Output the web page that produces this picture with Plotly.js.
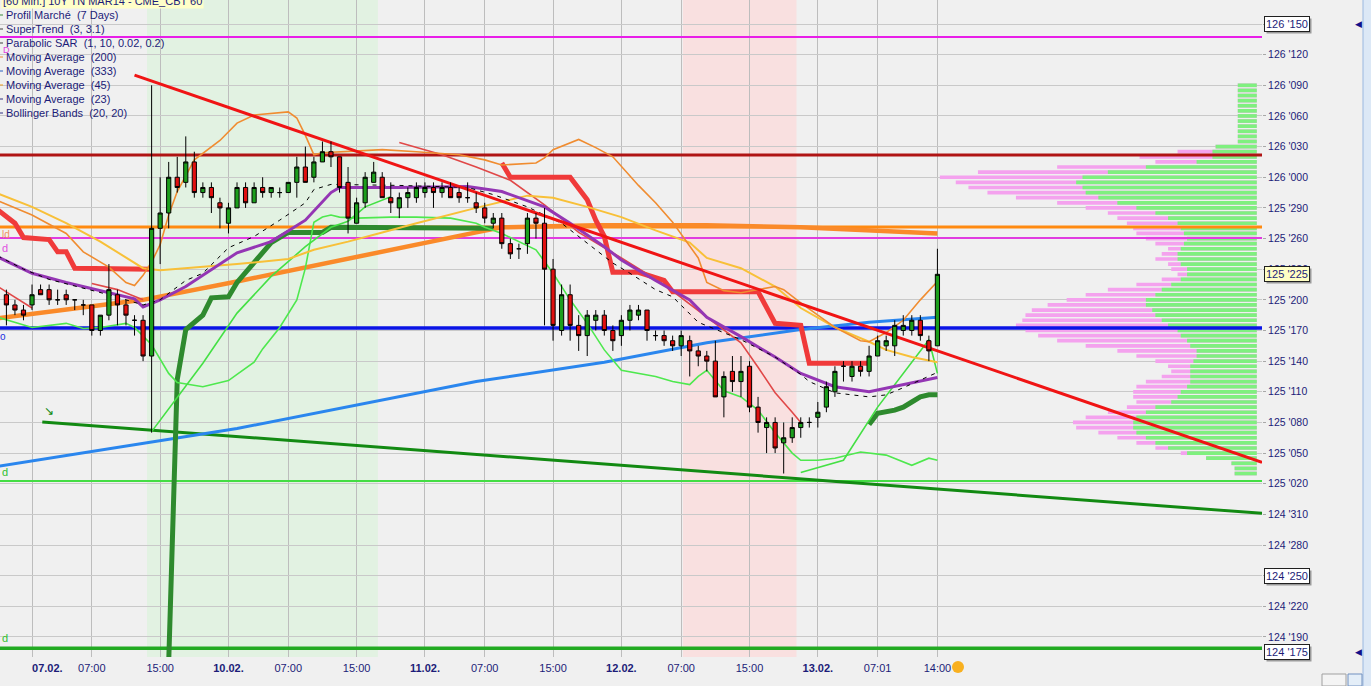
<!DOCTYPE html>
<html><head><meta charset="utf-8">
<script src="https://cdn.plot.ly/plotly-3.0.1.min.js"></script>
<style>html,body{margin:0;padding:0;background:#f0f0f0;overflow:hidden}</style>
</head><body>
<div id="chart" style="width:1371px;height:686px"></div>
<script>
// Prices are stored in 32nds of a point above 124 (e.g. 54.5 -> 125'225)
const BASE = 124;
const P = v => BASE + v / 32;

// ---- hourly candles, first bar = 06.02. 21:00 (bar index -3) ----
const firstBar = -3;
const open  = [52.5,51.5,51,51.5,53,53,52,52.5,52,51.5,51.5,49,50.5,52.5,51.5,50,50,46.5,59,60.5,64,63.5,65.5,62.5,63,61.5,59.5,61,63,61.5,63,62.5,62.5,62.5,63.5,65,64,65.5,66.5,66,63.5,59.5,61.5,63.5,64,62,61,62,62,62.5,63,62.5,63,62.5,62,61.5,61,59.5,60,57.5,57,57.5,60,59.5,55,49,52.5,49.5,48.5,50,50.5,49,48.5,50,50.5,51,48.5,48.5,48,47.5,48,47,46.5,46,42.5,45,44,45.5,41.5,39.5,40,38,38.5,39.5,40,40.5,41.5,43,45.5,44.5,45.5,45,46.5,47.5,47.5,49,49,50,48,47.5];
const high  = [53,52,51.5,53.5,53.5,53.5,53,53,52,52,51.5,50.5,55.5,53,52,50.5,50.5,73,64,65.5,66,68,66.5,63.5,63.5,62,61.5,63.5,63.5,63.5,64,63,63,63.5,66,67,66,67.5,67.5,66,65,62,64.5,65.5,64.5,63.5,62.5,63,63.5,63.5,63.5,63.5,63.5,63,63.5,62.5,61.5,60.5,60.5,58,57.5,60.5,60.5,61,56,53.5,53.5,50.5,51,51,51,49.5,50.5,51.5,51.5,51,49,49,48.5,49,48.5,47.5,47,48,45,46.5,46.5,46,42.5,40.5,40.5,40,40.5,40.5,40.5,42,44,45.5,46,46,46,47.5,48.5,48.5,50,50.5,50.5,50.5,48.5,57];
const low   = [49.5,50.5,50,51,52.5,51.5,51.5,51.5,51,50.5,48.5,48.5,50,49.5,49.5,48.5,46,39,55.5,59,62.5,63,62,62,60.5,59,58.5,61,61,61.5,62,62,62,62.5,62,63.5,63.5,65.5,65,62.5,58.5,59.5,61,63.5,62,60.5,60,61,61.5,62,61,62,62,61.5,61.5,60.5,59.5,59,57,56,56,56.5,58,49.5,48,48.5,48,47,46.5,49,48.5,47,47.5,49,50,48,48,47.5,47,46.5,44.5,45.5,45,42.5,40.5,43,42.5,41,39,37,37,35,38,38.5,39.5,39.5,41,42.5,44,44,44.5,44.5,46.5,47,46.5,48.5,48.5,48,46,47.5];
const close = [51.5,51,50.5,52.5,52.5,52,52,52,52,51.5,49,50.5,53,51.5,50.5,50,46.5,59,60.5,64,63,65.5,62.5,63,62,61,61,63,61.5,63,62.5,63,62.5,63.5,65,63.5,65.5,66.5,66,63,60,61.5,64,64.5,62,61.5,62,62.5,63,63,62.5,63,62,62,62,61,60,60,57.5,56.5,57,60,59.5,55,49.5,52.5,49.5,48.5,50.5,50.5,49,48,50,51,51,49,48.5,48,47.5,48.5,47,46.5,46,42.5,44.5,44,45,41.5,40,40,37.5,38.5,39.5,40,40,41,43.5,45,45.5,45.5,45,46.5,48,48,49.5,49.5,50,48.5,47,54.5];

// ---- time axis labels (bar index -> label) ----
const timeTicks  = [0,7,15,23,30,38,46,53,61,69,76,84,92,99,106];
const timeLabels = ['<b>07.02.</b>','07:00','15:00','<b>10.02.</b>','07:00','15:00','<b>11.02.</b>','07:00','15:00','<b>12.02.</b>','07:00','15:00','<b>13.02.</b>','07:01','14:00'];

// ---- price axis ----
const priceTicks = [19,22,25,28,31,34,37,40,43,46,49,52,55,58,61,64,67,70,73,76,79];
const priceLabels = ["124 '190","124 '220","124 '250","124 '280","124 '310","125 '020","125 '050","125 '080","125 '110","125 '140","125 '170","125 '200","125 '230","125 '260","125 '290","126 '000","126 '030","126 '060","126 '090","126 '120","126 '150"];

// ---- horizontal levels ----
const levelMagentaTop = 77.73, levelDarkRed = 66.18, levelOrange = 59.13, levelMagenta = 58.05,
      levelBlue = 49.25, levelLightGreen = 34.27, levelGreen = 17.9;

// ---- trendlines (bar, 32nds) ----
const trendRedX = [12, 144], trendRedV = [74.0, 36.1];
const trendGreenX = [1.2, 144], trendGreenV = [40.05, 31.1];

// ---- indicators ----
const ma333X = [-4,24,52,67,79,90,98,106];
const ma333V = [35.7,39.4,44.0,45.9,47.8,49.1,49.8,50.3];
const ma200X = [-4,13,24,32,38,52,55,66,79,90,106];
const ma200V = [50.2,52.0,53.8,55.2,56.2,58.6,59.1,59.3,59.3,59.1,58.5];
const ma45X = [-4,0,4,8,12,13,15,18,24,28,32,35,36,43,51,55,60,63,67,69,73,77,79,83,87,90,94,98,102,106];
const ma45V = [56.2,54.6,53.7,52.9,52.1,51.3,52.0,53.3,56.6,57.7,59.8,62.5,63.0,63.0,63.1,62.6,61.1,59.5,57.2,55.9,53.9,52.0,50.3,48.4,46.4,44.8,43.5,43.0,43.7,44.4];
const ma23X = [-4,-1,2,7,9,13,15,18,20,23,26,29,32,33,35,43,46,51,54,58,62,64,66,68,70,73,75,78,83,87,90,91,94,98,100,102,106];
const ma23V = [56.3,55.0,54.0,52.9,52.5,51.5,52.0,53.9,54.6,57.1,58.2,59.8,61.5,62.8,63.3,63.2,63.1,63.0,62.3,61.1,59.5,58.2,56.9,55.6,54.6,53.0,52.3,49.8,48.1,46.4,44.7,44.0,42.9,42.5,42.7,43.4,44.9];
const goldX = [-4,0,4,8,13,15,24,30,33,37,41,45,52,55,58,61,65,69,73,77,79,83,87,90,94,98,100,103,106];
const goldV = [62.4,61.1,59.5,57.7,55.1,54.9,55.5,56.0,56.9,57.7,58.6,59.5,61.0,61.6,62.2,62.0,61.1,60.1,58.8,57.6,56.1,55.1,53.3,51.2,49.3,47.9,47.1,46.4,45.9];
const bbUpX = [-4,0,4,6,9,11,12,13,14,15,16,17,19,22,24,26,30,31,32,33,34,37,41,45,50,53,55,59,60,61,64,66,68,71,73,75,78,79,81,83,85,87,88,90,94,97,98,100,102,104,106];
const bbUpV = [61.7,60.3,58.5,56.7,55.2,53.7,53.4,54.4,55.7,57.4,60.3,62.6,65.7,67.6,69.3,70.1,70.4,69.8,68.1,66.2,66.4,66.5,66.7,66.5,66.2,65.7,65.2,65.4,65.9,66.7,67.7,66.9,66.0,63.2,61.5,59.6,56.1,53.7,52.9,52.7,53.0,53.3,53.0,51.7,49.3,48.0,47.9,48.8,50.0,52.0,53.8];
const bbLowX = [-4,0,4,6,8,11,12,14,16,17,20,23,24,26,27,29,31,32,33,34,35,36,38,42,45,49,52,53,55,59,61,63,65,67,69,71,73,75,77,78,79,81,83,85,87,89,90,92,94,97,100,103,105,106];
const bbLowV = [50.3,49.3,49.7,49.2,49.3,49.7,49.3,47.6,44.8,43.9,43.5,44.1,44.7,45.9,47.2,49.3,52.0,55.1,59.6,60.1,60.3,60.1,60.0,60.1,60.1,60.0,59.5,59.1,58.5,56.9,54.6,52.0,49.7,47.1,45.1,44.8,44.5,44.0,43.7,44.5,45.1,43.1,42.5,41.2,39.0,37.0,36.3,36.3,36.5,37.1,36.8,35.8,36.5,36.3];
// Parabolic SAR segments
const sar1X = [-4,0], sar1V = [53.3,51.2];
const sar2X = [7,10,13], sar2V = [53.6,53.0,52.0];
const sar3X = [14,20,24,28,32,35,37,39,42], sar3V = [39.1,45.8,50.7,54.3,57.2,59.1,59.7,61.1,62.1];
const sar4X = [43,48,52,56,60,64,69,74,79,83,85,87,89,90], sar4V = [67.4,66.2,65.0,63.7,61.3,58.6,56.1,53.5,50.3,47.8,45.4,42.9,41.0,40.0];
const sar5X = [90,95,99,102,104,105,106], sar5V = [35.1,36.3,41.5,44.8,47.1,48.1,44.8];
// SuperTrend segments
const stRed1X = [-4,-2,-1,2,3,4,5,14], stRed1V = [60.8,59.5,58.1,57.9,56.7,56.7,55.1,55.0];
const stGreen1X = [16,17,18,20,21,23,24,26,28,30,34,35,54], stGreen1V = [16.5,44.2,49.1,50.5,52.2,52.3,53.7,55.6,57.6,58.6,58.6,59.1,59.0];
const stRed2X = [55,56,63,64,65,66,67,68,71,74,75,85,86,87,90,91,98], stRed2V = [65.4,64.0,64.0,62.8,61.8,59.8,58.2,54.7,54.7,53.9,52.8,52.8,51.3,49.7,49.5,45.8,45.8];
const stGreen2X = [98,99,101,102,103,104,105,106], stGreen2V = [39.8,40.9,41.2,41.5,42.0,42.5,42.7,42.7];

// ---- market profile (relative volume, per half-32nd row) ----
const profileLevels = [73,72.5,72,71.5,71,70.5,70,69.5,69,68.5,68,67.5,67,66.5,66,65.5,65,64.5,64,63.5,63,62.5,62,61.5,61,60.5,60,59.5,59,58.5,58,57.5,57,56.5,56,55.5,55,54.5,54,53.5,53,52.5,52,51.5,51,50.5,50,49.5,49,48.5,48,47.5,47,46.5,46,45.5,45,44.5,44,43.5,43,42.5,42,41.5,41,40.5,40,39.5,39,38.5,38,37.5,37,36.5,36,35.5,35];
const profileTotal = [6,6,6,6,6,6,6,6,6,6,6,6,13,25,37,32,63,88,100,95,91,85,76,63,54,47,44,41,39,38,35,32,28,30,32,28,27,25,30,38,47,54,60,66,71,73,74,76,73,69,63,54,44,38,32,28,27,30,35,38,39,39,38,41,47,54,58,57,50,44,38,32,24,16,8,7,7];
const profileGreen = [6,6,6,6,6,6,6,6,6,6,6,6,13,14,14,19,35,47,55,57,55,54,50,44,38,32,28,25,24,23,22,23,24,25,25,24,22,22,24,27,30,32,35,35,33,32,30,28,25,24,22,21,19,19,20,21,21,21,21,22,24,25,27,32,35,38,39,39,38,35,32,28,22,16,8,7,7];

// ---- layout constants ----
const X0 = -3.75, X1 = 144;           // visible bar range
const V0 = 17.04, V1 = 81.35;          // visible 32nds range
const profileAnchor = 143.39, barsPerVol = 0.371;

const traces = [];
function lineTrace(xs, vs, color, width, dash) {
  return {type:'scatter', mode:'lines', x:xs, y:vs.map(P), line:{color:color, width:width, dash:dash||'solid'},
          hoverinfo:'skip', showlegend:false, cliponaxis:true};
}
// profile bars
traces.push({type:'bar', orientation:'h', y:profileLevels.map(P), x:profileTotal.map(v=>-v*barsPerVol), base:profileAnchor,
  width:0.36/32, marker:{color:'#f4a2ee', line:{width:0}}, hoverinfo:'skip', showlegend:false});
traces.push({type:'bar', orientation:'h', y:profileLevels.map(P), x:profileGreen.map(v=>-v*barsPerVol), base:profileAnchor,
  width:0.36/32, marker:{color:'#7ff07f', line:{width:0}}, hoverinfo:'skip', showlegend:false});
// levels
const LX = [-10, 150];
traces.push(lineTrace(LX, [levelMagentaTop,levelMagentaTop], '#e81ee8', 2));
traces.push(lineTrace(LX, [levelDarkRed,levelDarkRed], '#b01414', 3));
traces.push(lineTrace(LX, [levelOrange,levelOrange], '#ff8a10', 3));
traces.push(lineTrace(LX, [levelMagenta,levelMagenta], '#e03ce0', 2));
traces.push(lineTrace(LX, [levelLightGreen,levelLightGreen], '#44dd44', 2));
traces.push(lineTrace(LX, [levelGreen,levelGreen], '#22aa22', 3.5));
traces.push(lineTrace(LX, [levelBlue,levelBlue], '#0a14e6', 3.5));
// trendlines & indicators
traces.push(lineTrace(trendGreenX, trendGreenV, '#128a12', 3));
traces.push(lineTrace(ma333X, ma333V, '#2a86ee', 3));
traces.push(lineTrace(ma200X, ma200V, '#fa8a2a', 4.5));
traces.push(lineTrace(stGreen1X, stGreen1V, '#2e8a2e', 5));
traces.push(lineTrace(stGreen2X, stGreen2V, '#2e8a2e', 5));
traces.push(lineTrace(stRed1X, stRed1V, '#f03a3a', 5));
traces.push(lineTrace(stRed2X, stRed2V, '#f03a3a', 5));
traces.push(lineTrace(bbLowX, bbLowV, '#4ee84e', 1.6));
traces.push(lineTrace(sar3X, sar3V, '#44e044', 1.6));
traces.push(lineTrace(sar5X, sar5V, '#44e044', 1.6));
traces.push(lineTrace(sar1X, sar1V, '#e04848', 1.6));
traces.push(lineTrace(sar2X, sar2V, '#e04848', 1.6));
traces.push(lineTrace(sar4X, sar4V, '#e04848', 1.6));
traces.push(lineTrace(goldX, goldV, '#f8c038', 2));
traces.push(lineTrace(bbUpX, bbUpV, '#f08c30', 1.6));
traces.push(lineTrace(ma45X, ma45V, '#9436b4', 3));
traces.push(lineTrace(ma23X, ma23V, '#000000', 1, '4px,5px'));
traces.push(lineTrace(trendRedX, trendRedV, '#f01414', 3));
// candles (on an overlaid axis pair so they sit above indicators)
traces.push({type:'candlestick', xaxis:'x2', yaxis:'y2',
  x: open.map((_,i)=>i+firstBar), open:open.map(P), high:high.map(P), low:low.map(P), close:close.map(P),
  increasing:{line:{color:'#000', width:1}, fillcolor:'#1c9e1c'},
  decreasing:{line:{color:'#000', width:1}, fillcolor:'#e01010'},
  whiskerwidth:0, hoverinfo:'skip', showlegend:false});

const navy = '#1c1c78';
const font = 'Liberation Sans, Arial, sans-serif';
const H = 657;
const py = p => 1 - p / H;   // pixel row -> paper y
const px = p => p / 1262;    // pixel col -> paper x

const ann = [];
function txt(t, x, y, color, size, opts) {
  ann.push(Object.assign({text:t, xref:'paper', yref:'paper', x:px(x), y:py(y), xanchor:'left', yanchor:'middle',
    showarrow:false, font:{family:font, size:size||11, color:color||navy}}, opts||{}));
}
// header & indicator list
txt('[60 Min.] 10Y TN MAR14 - CME_CBT 60', 1, 1, navy, 11, {bgcolor:'#ffffc8', borderpad:1});
const legendLines = ['Profil Marché\u00a0\u00a0(7 Days)','SuperTrend\u00a0\u00a0(3, 3.1)','Parabolic SAR\u00a0\u00a0(1, 10, 0.02, 0.2)',
  'Moving Average\u00a0\u00a0(200)','Moving Average\u00a0\u00a0(333)','Moving Average\u00a0\u00a0(45)','Moving Average\u00a0\u00a0(23)','Bollinger Bands\u00a0\u00a0(20, 20)'];
const legendDash = ['#3a8a3a','#404040','#404040','#f08c30','#2a60c0','#f0a020','#303080','#303080'];
legendLines.forEach((t,i)=>{ txt(t, 4, 15+14*i); });
// cut labels at the left edge
txt('D', 1, 50, '#e040e0', 9);
txt('ld', 0, 234, '#f09060', 10);
txt('d', 0, 248, '#e050e0', 11);
txt('o', -2, 336, '#2030e0', 10);
txt('d', 0, 472, '#30c030', 11);
txt('d', 0, 638, '#30c030', 11);
txt('\u2198', 42, 411, '#128a12', 12);
// price boxes on the axis
function box(v, t, bg) {
  ann.push({text:t, xref:'paper', yref:'y', x:px(1264), y:P(v), xanchor:'left', yanchor:'middle', showarrow:false,
    xshift:2, yshift:-2, bgcolor:'#9a9a9a', borderpad:1, font:{family:font, size:11, color:'#9a9a9a'}});
  ann.push({text:t, xref:'paper', yref:'y', x:px(1264), y:P(v), xanchor:'left', yanchor:'middle', showarrow:false,
    bgcolor:bg, bordercolor:'#202020', borderwidth:1, borderpad:1, font:{family:font, size:11, color:navy}});
}
box(79, "126 '150", '#ffffff');
box(54.5, "125 '225", '#ffffc4');
box(25, "124 '250", '#ffffff');
box(17.5, "124 '175", '#ffffff');
// side arrows
txt('\u25C0', 1353, 24, '#10108a', 9);
txt('\u25C0', 1353, 652, '#10108a', 9);

const shapes = [
  {type:'rect', xref:'x', yref:'paper', x0:13.46, x1:40.5, y0:0, y1:1, fillcolor:'#e2f2e2', line:{width:0}, layer:'below'},
  {type:'rect', xref:'x', yref:'paper', x0:76.2, x1:89.5, y0:0, y1:1, fillcolor:'#f9e0e0', line:{width:0}, layer:'below'},
  {type:'rect', xref:'paper', yref:'paper', x0:px(1363), x1:px(1372), y0:-0.1, y1:1.05, fillcolor:'#dce8f6', line:{color:'#9ab8e0', width:1}},
  ...legendDash.map((c,i)=>({type:'line', xref:'paper', yref:'paper', x0:0, x1:px(3), y0:py(15+14*i), y1:py(15+14*i), line:{color:c, width:1}})),
  {type:'circle', xref:'paper', yref:'paper', x0:px(952), x1:px(964), y0:py(673), y1:py(661), fillcolor:'#f8b020', line:{width:0}},
  {type:'rect', xref:'paper', yref:'paper', x0:px(1322), x1:px(1346), y0:py(686), y1:py(674), fillcolor:'#f4f4f4', line:{color:'#a0a0a0', width:1}},
  {type:'rect', xref:'paper', yref:'paper', x0:px(1348), x1:px(1362), y0:py(686), y1:py(674), fillcolor:'#e4eef8', line:{color:'#7090c0', width:1}}
];

// first date label sits right of its grid line in the reference
const tickTextShown = timeLabels.map((t,i)=> i===0 ? '\u00a0'.repeat(10)+t : t);

const layout = {
  width:1371, height:686, margin:{l:0, r:109, t:0, b:29}, paper_bgcolor:'#f0f0f0', plot_bgcolor:'#f0f0f0',
  showlegend:false, hovermode:false, barmode:'overlay', dragmode:false,
  font:{family:font, size:11, color:navy},
  xaxis:{range:[X0,X1], tickvals:timeTicks, ticktext:tickTextShown, showgrid:true, gridcolor:'#bdbdbd', gridwidth:1,
    zeroline:false, showline:false, ticks:'', ticklabelstandoff:3, tickfont:{family:font, size:11, color:navy}, rangeslider:{visible:false}, fixedrange:true},
  yaxis:{side:'right', range:[P(V0),P(V1)], tickvals:priceTicks.map(P), ticktext:priceLabels, showgrid:true, gridcolor:'#c9c9c9',
    zeroline:false, showline:false, ticks:'outside', ticklen:3, tickcolor:'#a8a8a8', tickfont:{family:font, size:10.5, color:navy}, fixedrange:true},
  xaxis2:{overlaying:'x', anchor:'y2', range:[X0,X1], visible:false, rangeslider:{visible:false}, fixedrange:true},
  yaxis2:{overlaying:'y', anchor:'x2', side:'right', range:[P(V0),P(V1)], visible:false, fixedrange:true},
  shapes:shapes, annotations:ann
};
Plotly.newPlot('chart', traces, layout, {staticPlot:true, displayModeBar:false});
</script>
</body></html>
